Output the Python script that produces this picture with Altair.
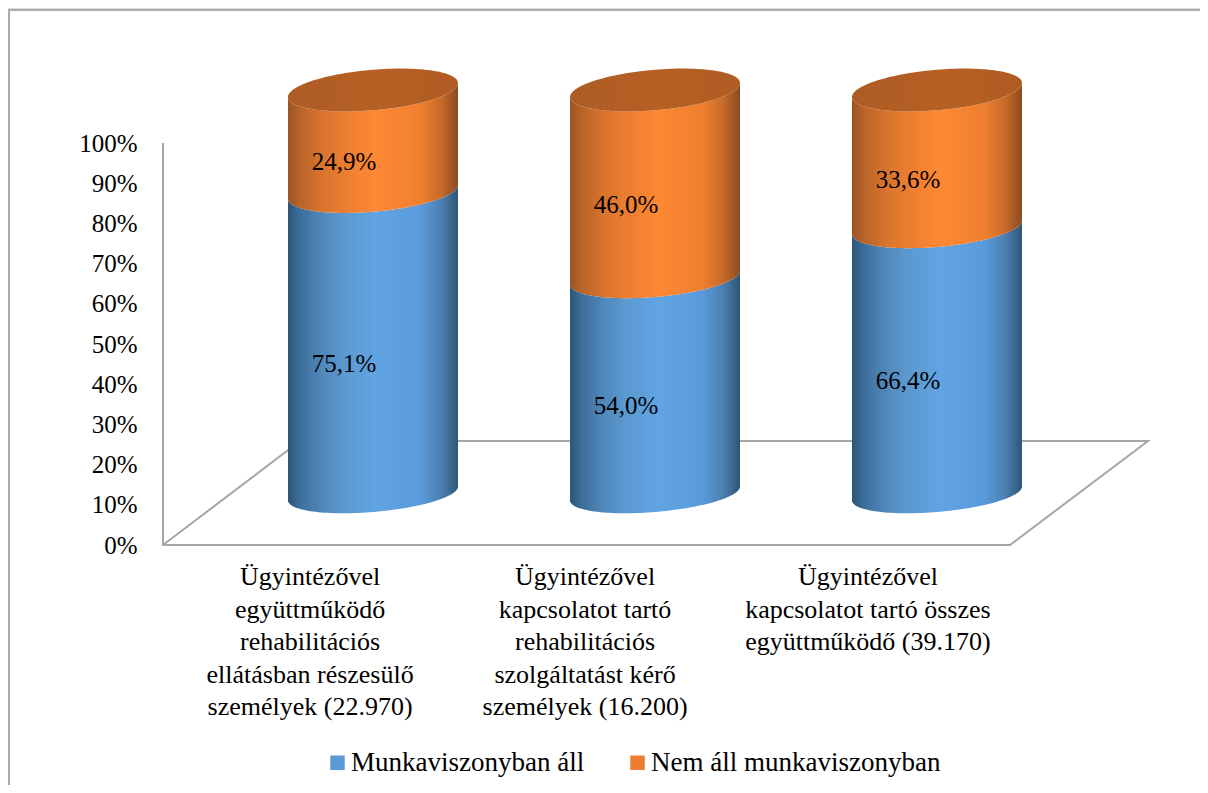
import math
import altair as alt
import pandas as pd

# --- chart values ---
categories = [
    "Ügyintézővel\negyüttműködő\nrehabilitációs\nellátásban részesülő\nszemélyek (22.970)",
    "Ügyintézővel\nkapcsolatot tartó\nrehabilitációs\nszolgáltatást kérő\nszemélyek (16.200)",
    "Ügyintézővel\nkapcsolatot tartó összes\negyüttműködő (39.170)",
]
employed = [75.1, 54.0, 66.4]
not_employed = [24.9, 46.0, 33.6]
label_employed = ["75,1%", "54,0%", "66,4%"]
label_not_employed = ["24,9%", "46,0%", "33,6%"]
series_names = ["Munkaviszonyban áll", "Nem áll munkaviszonyban"]
series_colors = ["#5B9BD5", "#ED7D31"]
category_label_x = [-0.223, 0.752, 1.755]
percent_ticks = list(range(0, 101, 10))

FONT = "Liberation Serif"
FS = 26
FS_NUM = 25
FS_LEGEND = 27
GRAY = "#A6A6A6"

# plot spans the whole page area; scales are defined by the axis placement
W, H = 1192, 777
def xu(px):
    return (px - 373) / 282
def yu(py):
    return (545 - py) / 4.02

x_scale = alt.Scale(domain=[xu(8), xu(8 + W)], nice=False, zero=False)
y_scale = alt.Scale(domain=[yu(8 + H), yu(8)], nice=False, zero=False)
X = alt.X("x:Q", scale=x_scale, axis=None)
Y = alt.Y("y:Q", scale=y_scale, axis=alt.Axis(
    values=percent_ticks, labelExpr="datum.value + '%'", title=None, grid=False,
    domain=False, ticks=False, labelPadding=0, offset=-129,
    labelFont=FONT, labelFontSize=FS_NUM, labelColor="black", labelFlush=False,
    labelOverlap=False))

# projection of the 3-D cylinder
HALF = 85
SHEAR = -0.082
def level_px(v):
    return 493.5 - (3.959 * v + 0.00076 * v * v)
def minor(v):
    return 18.5 + 0.018 * v

ANGLES = [math.pi * i / 72 for i in range(73)]

def segment_rows(cyl, lo, hi):
    rows = []
    for t in ANGLES:
        d = HALF * math.cos(t)
        top = level_px(hi) + SHEAR * d + minor(hi) * math.sin(t)
        bot = level_px(lo) + SHEAR * d + minor(lo) * math.sin(t)
        rows.append({"cyl": cyl, "x": xu(373 + 282 * cyl + d), "y": yu(top), "y2": yu(bot)})
    return rows

def cap_rows(cyl, v):
    rows = []
    for t in ANGLES:
        d = HALF * math.cos(t)
        c = level_px(v) + SHEAR * d
        rows.append({"cyl": cyl, "x": xu(373 + 282 * cyl + d),
                     "y": yu(c - minor(v) * math.sin(t)), "y2": yu(c + minor(v) * math.sin(t))})
    return rows

blue_rows, orange_rows, caps = [], [], []
for i, e in enumerate(employed):
    blue_rows += segment_rows(i, 0, e)
    orange_rows += segment_rows(i, e, 100)
    caps += cap_rows(i, 100)

def grad(stops):
    return alt.Gradient(gradient="linear", x1=0, x2=1, y1=0, y2=0,
                        stops=[alt.GradientStop(offset=o, color=c) for o, c in stops])

blue_grad = grad([(0, "#2C5576"), (0.07, "#3D6E9B"), (0.2, "#5088BB"), (0.32, "#5A98CE"), (0.52, "#61A4E4"),
                  (0.78, "#5A9ADA"), (0.9, "#4C80B2"), (1, "#2E5676")])
orange_grad = grad([(0, "#9A5423"), (0.07, "#B8642A"), (0.2, "#D8742D"), (0.32, "#EA7D30"), (0.52, "#FF8833"),
                    (0.78, "#EE7F30"), (0.9, "#C76B29"), (1, "#8A4C20")])
cap_grad = grad([(0, "#AC5C24"), (0.5, "#B66024"), (1, "#B05C22")])

def area(rows, g):
    return alt.Chart(pd.DataFrame(rows)).mark_area(fill=g, line=False, opacity=1).encode(
        x=X, y=Y, y2="y2:Q", detail="cyl:N")

# frame
frame = alt.Chart(pd.DataFrame({
    "x": [xu(9), xu(9), xu(1208)], "y": [yu(800), yu(10), yu(10)], "o": [0, 1, 2]
})).mark_line(color="#ABABAB", strokeWidth=2).encode(x=X, y=Y, order="o:Q")

# floor of the 3-D plot and value axis line
floor = alt.Chart(pd.DataFrame({
    "x": [xu(163), xu(163), xu(1010), xu(1148), xu(300), xu(163)],
    "y": [100, 0, 0, yu(441), yu(441), 0],
    "o": [0, 1, 2, 3, 4, 5],
})).mark_line(color=GRAY, strokeWidth=2, strokeJoin="miter").encode(x=X, y=Y, order="o:Q")

# data labels
lab_rows = []
for i in range(3):
    e = employed[i]
    lab_rows.append({"x": i, "y": yu((level_px(0) + level_px(e)) / 2 + 21), "t": label_employed[i]})
    lab_rows.append({"x": i, "y": yu((level_px(e) + level_px(100)) / 2 + 21), "t": label_not_employed[i]})
labels = alt.Chart(pd.DataFrame(lab_rows)).mark_text(
    font=FONT, fontSize=FS_NUM, color="black", dx=-29, baseline="middle", align="center"
).encode(x=X, y=Y, text="t:N")

# category labels
cat_labels = alt.Chart(pd.DataFrame({"x": category_label_x, "y": [yu(564)] * 3, "t": categories})).mark_text(
    font=FONT, fontSize=FS, color="black", baseline="top", align="center", lineBreak="\n", lineHeight=32.5
).encode(x=X, y=Y, text="t:N")

# legend
legend_layer = alt.Chart(pd.DataFrame({
    "x": [xu(-100), xu(-100)], "y": [0, 0], "s": series_names
})).mark_square(size=0, opacity=1).encode(
    x=X, y=Y,
    color=alt.Color("s:N", scale=alt.Scale(domain=series_names, range=series_colors),
                    legend=alt.Legend(orient="none", legendX=316, legendY=741, direction="horizontal",
                                      title=None, columns=2, symbolType="square", symbolSize=210,
                                      symbolOpacity=1, labelFont=FONT, labelFontSize=FS_LEGEND, labelColor="black",
                                      labelOffset=0, columnPadding=39, symbolStrokeWidth=0,
                                      labelLimit=400)),
)

chart = alt.layer(
    frame, floor,
    area(blue_rows, blue_grad), area(orange_rows, orange_grad), area(caps, cap_grad),
    labels, cat_labels, legend_layer,
).properties(
    width=W, height=H, padding=0,
    autosize=alt.AutoSizeParams(type="none"),
).configure_view(stroke=None).configure(background="white")

chart.save("out.html", embed_options={"renderer": "svg", "actions": False})
